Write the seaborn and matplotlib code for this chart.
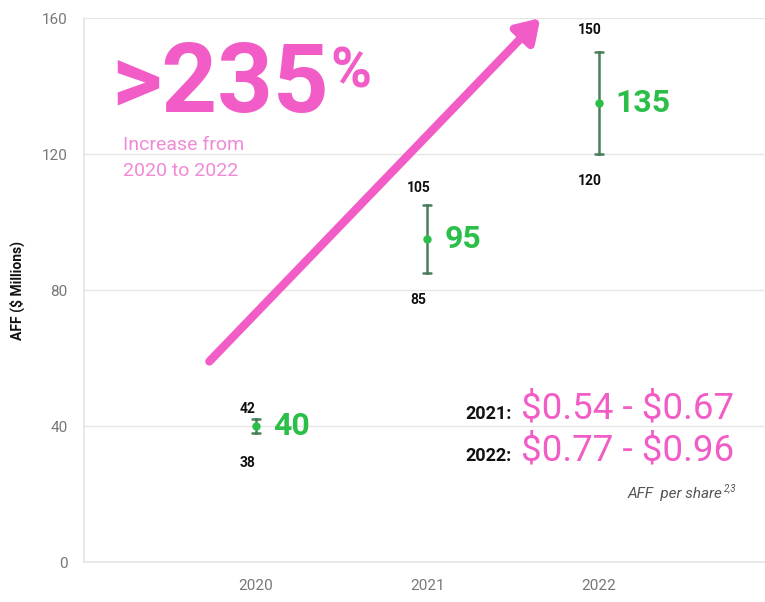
import matplotlib
matplotlib.use("Agg")
import matplotlib.pyplot as plt
import seaborn as sns
import pandas as pd

# ===================== 数据 =====================
years = ["2020", "2021", "2022"]
aff_low = [38, 85, 120]
aff_mid = [40, 95, 135]
aff_high = [42, 105, 150]
per_share_years = ["2021:", "2022:"]
per_share_ranges = ["\\$0.54 - \\$0.67", "\\$0.77 - \\$0.96"]
y_ticks = [0, 40, 80, 120, 160]

PINK = "#F25CC6"
LIGHT_PINK = "#F08AD6"
GREEN = "#2BBF4A"
BAR_GREEN = "#4A7D5A"

df = pd.DataFrame({
    "year": years * 3,
    "aff": aff_low + aff_mid + aff_high,
})

# ===================== 绘图 =====================
sns.set_theme(style="white")
plt.rcParams["font.family"] = ["Roboto", "DejaVu Sans"]
plt.rcParams["axes.unicode_minus"] = False

fig = plt.figure(figsize=(7.65, 6.02), dpi=100)
ax = fig.add_axes([0.110, 0.0664, 0.890, 0.9036])

sns.pointplot(data=df, x="year", y="aff", order=years, estimator="median",
              errorbar=("pi", 100), linestyle="none", color=BAR_GREEN,
              capsize=0.045, err_kws={"linewidth": 1.8}, markersize=4,
              markers="o", ax=ax)
# 中心点改为亮绿色
for ln in ax.lines:
    if ln.get_marker() == "o":
        ln.set_markerfacecolor(GREEN)
        ln.set_markeredgecolor(GREEN)
        ln.set_zorder(5)

ax.set_xlim(-1.0, 2.97)
ax.set_ylim(0, 160)
ax.set_yticks(y_ticks)
ax.yaxis.grid(True, color="#e6e6e6", linewidth=1)
ax.set_axisbelow(True)
for s in ["top", "right"]:
    ax.spines[s].set_visible(False)
for s in ["left", "bottom"]:
    ax.spines[s].set_color("#e6e6e6")
ax.tick_params(axis="both", colors="#777777", labelsize=11, length=0, pad=12)
ax.set_xlabel("")
ax.set_ylabel("AFF ($ Millions)", fontsize=10, fontweight="bold", color="#111111")
ax.yaxis.set_label_coords(-0.087, 0.5)

# 数值标签
top_off = [3.0, 5.0, 6.5]
bot_off = [6.5, 5.5, 5.5]
for i, (lo, mid, hi) in enumerate(zip(aff_low, aff_mid, aff_high)):
    ax.text(i - 0.05, hi + top_off[i], str(hi), ha="center", va="center", fontsize=10,
            fontweight="bold", color="#111111")
    ax.text(i - 0.05, lo - bot_off[i] - 2.5, str(lo), ha="center", va="center", fontsize=10,
            fontweight="bold", color="#111111")
    ax.text(i + 0.1, mid, str(mid), ha="left", va="center", fontsize=23,
            fontweight="bold", color=GREEN)

# 箭头
ax.annotate("", xy=(1.66, 160), xytext=(-0.27, 59),
            arrowprops=dict(arrowstyle="-|>,head_length=1.1,head_width=0.7",
                            color=PINK, lw=6, shrinkA=0, shrinkB=0))

# 大号标题文字
fig.text(111 / 765, 1 - 112 / 602, ">235", fontsize=70, fontweight="bold",
         color=PINK, ha="left", va="baseline")
fig.text(330 / 765, 1 - 88 / 602, "%", fontsize=40, fontweight="bold",
         color=PINK, ha="left", va="baseline")
fig.text(123 / 765, 1 - 150 / 602, "Increase from", fontsize=14,
         color=LIGHT_PINK, ha="left", va="baseline")
fig.text(123 / 765, 1 - 176 / 602, "2020 to 2022", fontsize=14,
         color=LIGHT_PINK, ha="left", va="baseline")

# 每股 AFF
for k, (yr, rng) in enumerate(zip(per_share_years, per_share_ranges)):
    yb = 1 - (419 + 42 * k) / 602
    fig.text(512 / 765, yb, yr, fontsize=13, fontweight="bold", color="#111111",
             ha="right", va="baseline")
    fig.text(521 / 765, yb, rng, fontsize=26.5, color=PINK, ha="left", va="baseline")
fig.text(722 / 765, 1 - 498 / 602, "AFF  per share", fontsize=11,
         style="italic", color="#555555", ha="right", va="baseline")
fig.text(724 / 765, 1 - 491 / 602, "2,3", fontsize=7,
         style="italic", color="#555555", ha="left", va="baseline")

plt.savefig("out.png", dpi=100)
